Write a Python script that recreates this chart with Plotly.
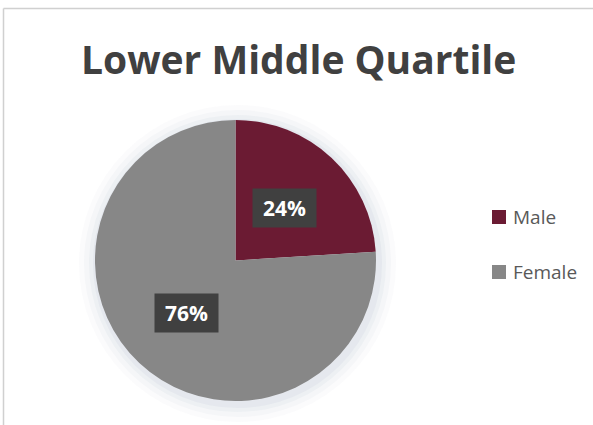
import math
import plotly.graph_objects as go

categories = ["Male", "Female"]
values = [24, 76]
colors = ["#6B1B33", "#878787"]
title_text = "Lower Middle Quartile"

W, H = 593, 425
FONT = "Open Sans, Lato, sans-serif"
cx_px, cy_px, r_px = 235.5, 260.5, 140.5
dom_x = [(cx_px - r_px) / W, (cx_px + r_px) / W]
dom_y = [1 - (cy_px + r_px) / H, 1 - (cy_px - r_px) / H]

fig = go.Figure(go.Pie(
    labels=categories, values=values, sort=False, direction="clockwise",
    rotation=0, marker=dict(colors=colors, line=dict(color="white", width=0)),
    textinfo="none", hoverinfo="label+percent", showlegend=False,
    domain=dict(x=dom_x, y=dom_y),
))

shapes = []
# soft glow behind the pie
for k, a in [(18, 0.05), (13, 0.07), (8, 0.09), (4, 0.12)]:
    shapes.append(dict(type="circle", xref="paper", yref="paper",
                       x0=(cx_px + 2 - r_px - k) / W, x1=(cx_px + 2 + r_px + k) / W,
                       y0=1 - (cy_px + 3 + r_px + k) / H, y1=1 - (cy_px + 3 - r_px - k) / H,
                       fillcolor="rgba(170,185,205,%.2f)" % a, line=dict(width=0), layer="below"))

# data labels positioned from the values
total = sum(values)
cum = 0
annotations = []
for v in values:
    mid = (cum + v / 2) / total * 2 * math.pi
    cum += v
    px = cx_px + 0.51 * r_px * math.sin(mid)
    py = cy_px - 0.51 * r_px * math.cos(mid)
    annotations.append(dict(
        x=px / W, y=1 - py / H, xref="paper", yref="paper", showarrow=False,
        text="<b>%d%%</b>" % round(v / total * 100),
        font=dict(family=FONT, size=21, color="white"),
        bgcolor="#404040", borderpad=6, width=51, height=26,
        xanchor="center", yanchor="middle",
    ))

# legend
leg_y = [217, 272]
for name, col, y in zip(categories, colors, leg_y):
    shapes.append(dict(type="rect", xref="paper", yref="paper",
                       x0=492 / W, x1=506 / W, y0=1 - (y + 7) / H, y1=1 - (y - 7) / H,
                       fillcolor=col, line=dict(width=0)))
    annotations.append(dict(x=511 / W, y=1 - (y - 0.5) / H, xref="paper", yref="paper",
                            showarrow=False, text=name, xanchor="left", yanchor="middle",
                            font=dict(family=FONT, size=19, color="#595959")))

# title
annotations.append(dict(x=298 / W, y=1 - 58 / H, xref="paper", yref="paper", showarrow=False,
                        text="<b>%s</b>" % title_text, xanchor="center", yanchor="middle",
                        font=dict(family=FONT, size=39, color="#404040")))

# chart border (left and top edges)
shapes.append(dict(type="line", xref="paper", yref="paper", x0=3.5 / W, x1=1, y0=1 - 8.5 / H, y1=1 - 8.5 / H,
                   line=dict(color="#D0D0D0", width=1.5)))
shapes.append(dict(type="line", xref="paper", yref="paper", x0=3.5 / W, x1=3.5 / W, y0=0, y1=1 - 8.5 / H,
                   line=dict(color="#D0D0D0", width=1.5)))

fig.update_layout(
    width=W, height=H, margin=dict(l=0, r=0, t=0, b=0),
    paper_bgcolor="white", plot_bgcolor="white",
    annotations=annotations, shapes=shapes,
)
fig.write_html("out.html", config={"displayModeBar": False},
               post_script="document.body.style.margin='0';document.body.style.overflow='hidden';")
